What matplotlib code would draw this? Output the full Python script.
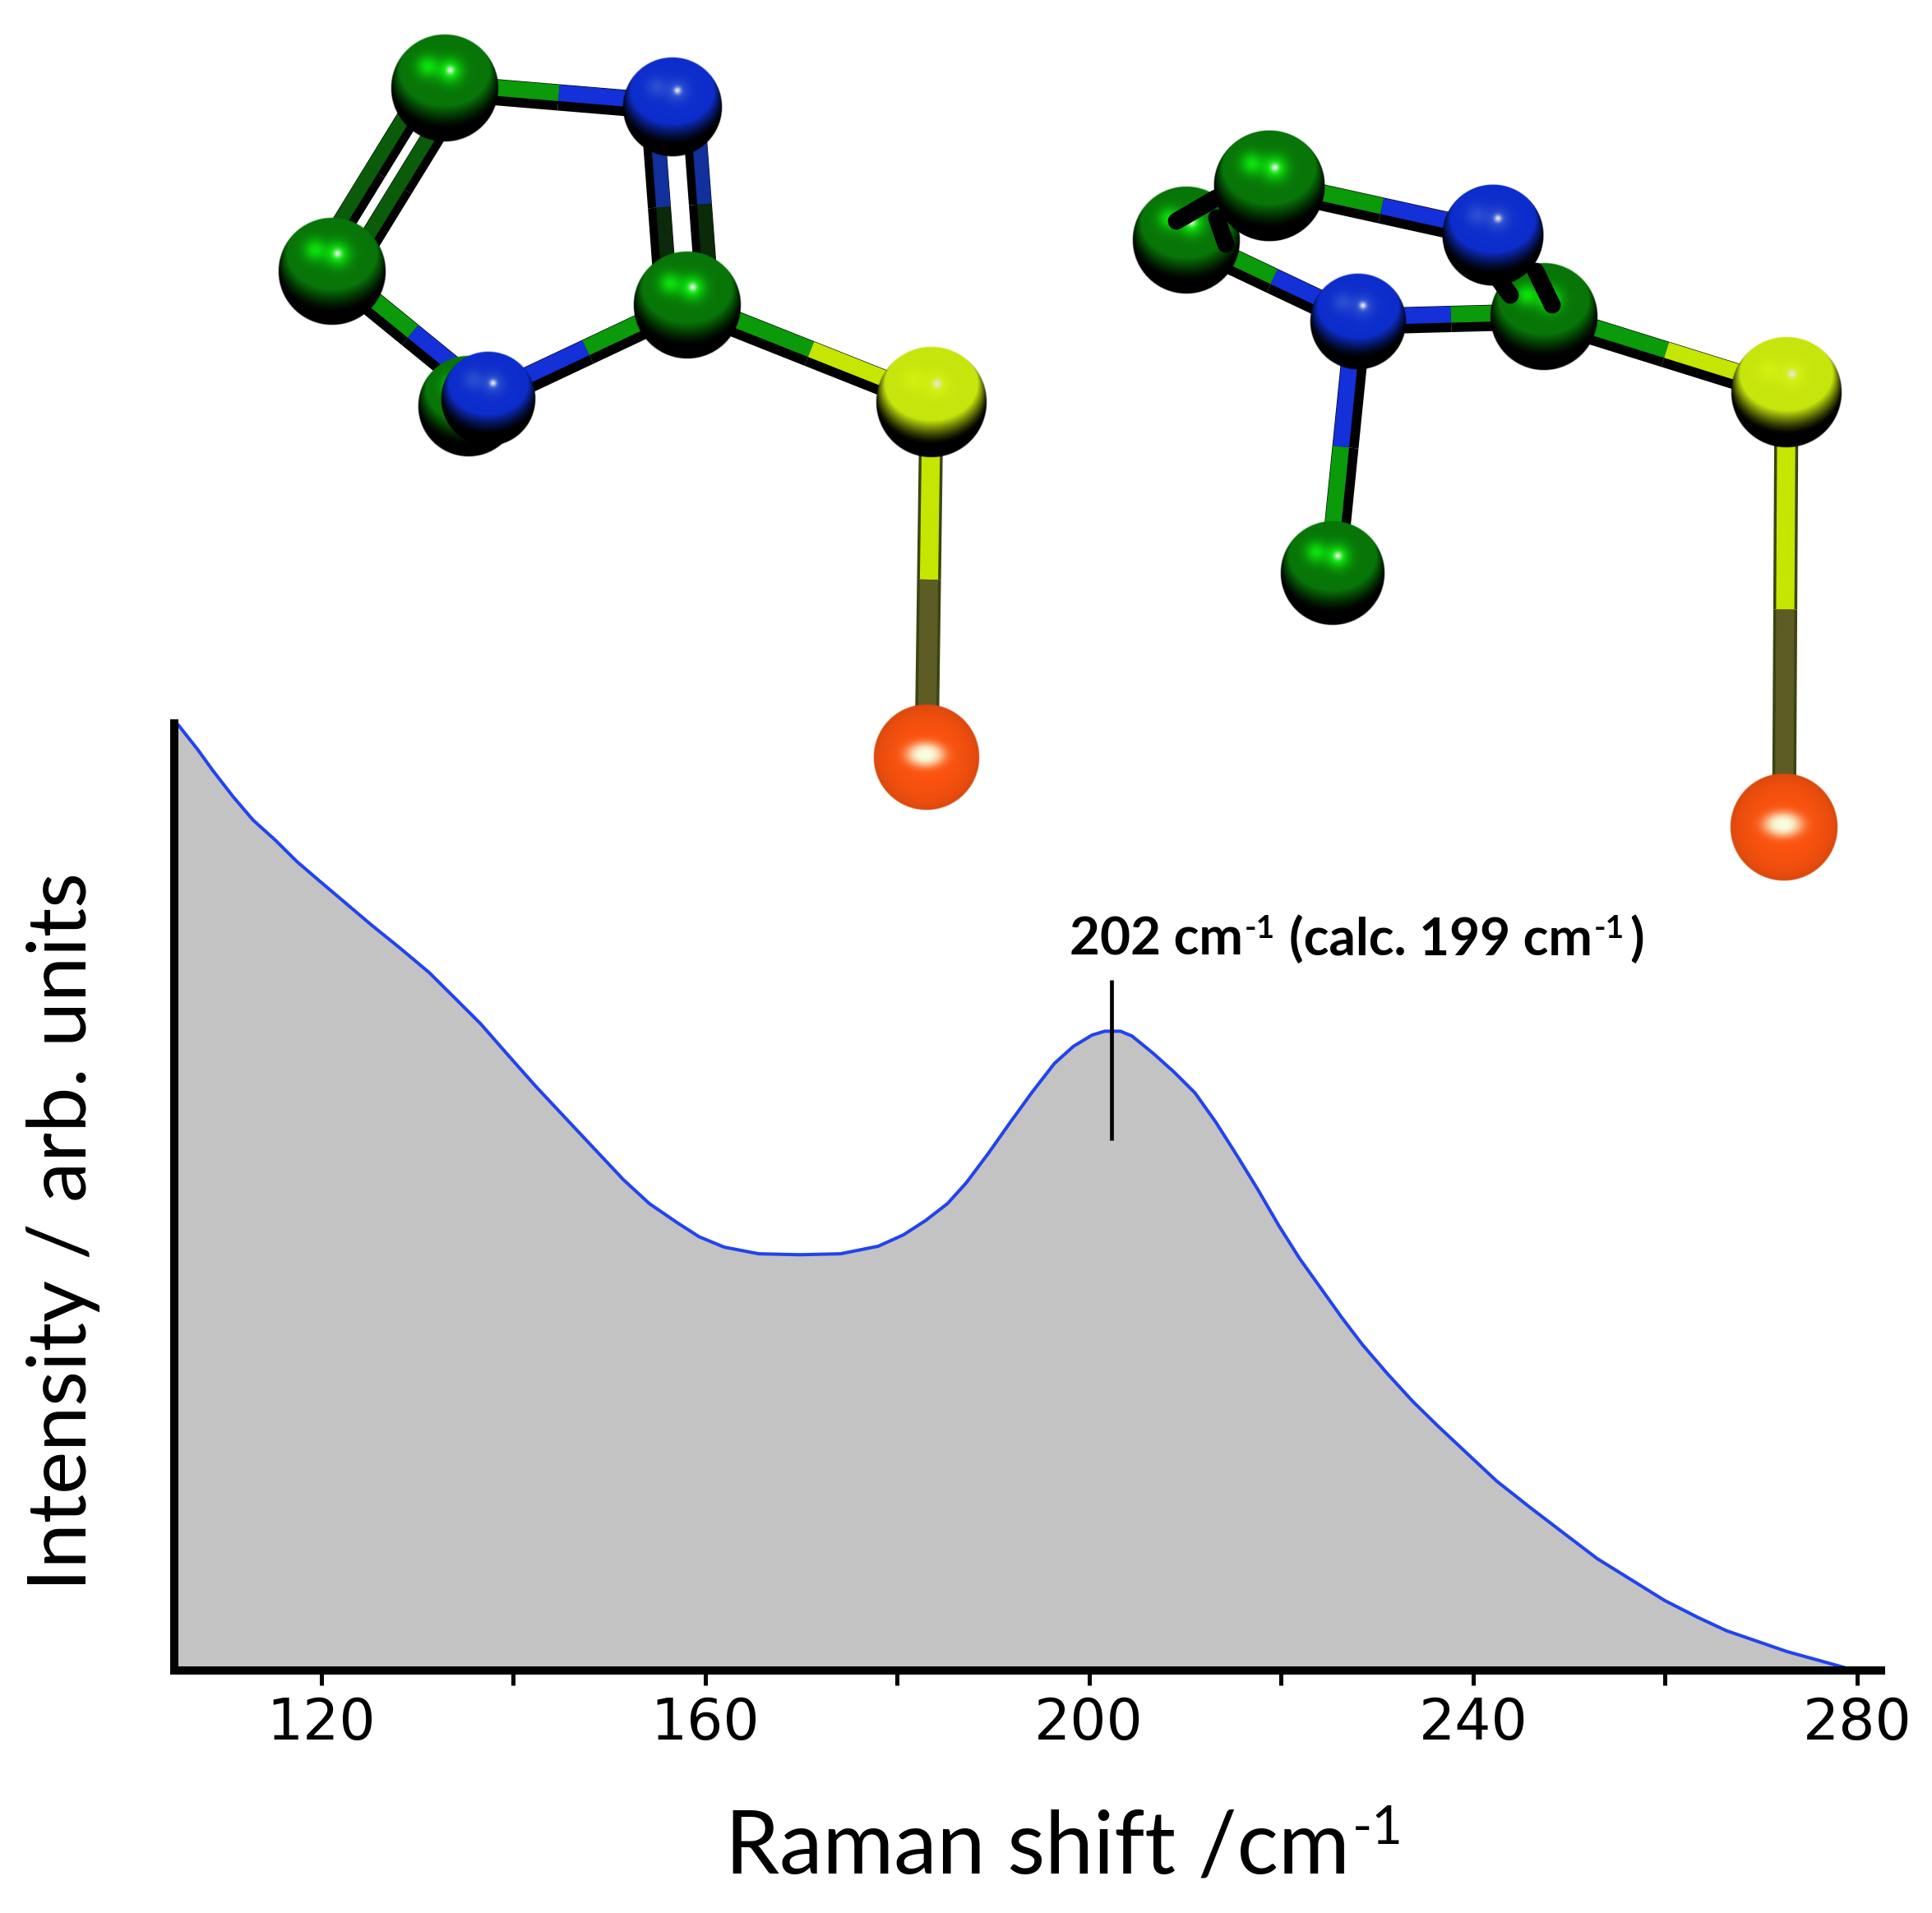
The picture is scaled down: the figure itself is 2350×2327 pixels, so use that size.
import matplotlib
matplotlib.use('Agg')
import matplotlib.pyplot as plt
import numpy as np

# spectrum
shift = [104.7, 105.07, 107.17, 108.7, 110.8, 112.9, 115.2, 117.49, 119.79, 122.47, 125.14, 128.19, 131.25,
         133.93, 136.6, 139.28, 142.34, 145.39, 148.45, 151.51, 154.19, 157.07, 159.37, 161.99, 165.59, 169.85,
         174.11, 178.04, 180.66, 182.95, 185.25, 187.21, 189.5, 191.8, 194.09, 196.39, 198.36, 200.32, 201.63,
         203.27, 204.46, 206.64, 208.84, 211.02, 213.2, 215.39, 217.57, 219.75, 221.93, 224.12, 226.3, 228.48,
         231.11, 233.73, 236.35, 239.4, 242.46, 245.96, 249.45, 252.95, 256.45, 259.94, 263.43, 266.4, 272.7,
         279.1]
intensity = [100.2, 99.9, 97.2, 95.05, 92.3, 89.8, 87.7, 85.4, 83.4, 81.1, 78.8, 76.3, 73.7,
             71.0, 68.3, 65.2, 61.7, 58.4, 55.1, 51.8, 49.3, 47.3, 45.8, 44.7, 44.0, 43.9,
             44.0, 44.8, 46.0, 47.5, 49.3, 51.5, 54.6, 57.9, 61.1, 64.1, 65.9, 67.1, 67.5,
             67.5, 67.0, 65.2, 63.2, 61.0, 57.9, 54.4, 50.8, 47.0, 43.5, 40.4, 37.3, 34.4,
             31.3, 28.4, 25.8, 22.9, 20.0, 17.2, 14.5, 11.8, 9.6, 7.4, 5.6, 4.2, 2.0,
             0.2]
major_ticks = [120, 160, 200, 240, 280]
minor_ticks = [140, 180, 220, 260]
peak_x = 202.37
peak_span = [55.95, 72.9]

# molecules, in picture pixels
atoms_left_x = [570, 541, 404, 818, 836, 594, 1133, 1127]
atoms_left_y = [494, 107, 330, 130, 371, 485, 489, 921]
atoms_left_r = [62, 66, 66, 61, 66, 58, 68, 65]
atoms_left_kind = ['C', 'C', 'C', 'N', 'C', 'N', 'S', 'O']
bonds_left = [(1, 3), (2, 5), (5, 4), (4, 6)]
double_left = [((1, 2), 19), ((3, 4), 25)]
double_left_colors = [('#0a5c0a', '#0a5c0a'), ('#12309c', '#0a2a0a')]

atoms_right_x = [1443, 1544, 1878, 1816, 1652, 1621, 2173, 2170]
atoms_right_y = [292, 226, 385, 286, 391, 697, 477, 1006]
atoms_right_r = [66, 68, 66, 62, 59, 64, 68, 66]
atoms_right_kind = ['C', 'C', 'C', 'N', 'N', 'C', 'S', 'O']
bonds_right = [(1, 3), (0, 4), (4, 2), (4, 5), (2, 6)]
stubs_right_x = [[1431, 1479], [1480, 1491], [1837, 1812], [1888, 1868]]
stubs_right_y = [[269, 241], [265, 297], [359, 325], [371, 330]]

sphere_base = {'C': (0.03, 0.46, 0.03), 'N': (0.05, 0.18, 0.80), 'S': (0.78, 0.90, 0.05), 'O': (1.0, 0.33, 0.06)}
sphere_glow = {'C': (0.05, 1.0, 0.05), 'N': (0.35, 0.50, 0.85), 'S': (0.92, 1.0, 0.10), 'O': (0.97, 1.0, 0.88)}
bond_color = {'C': '#0a9a0a', 'N': '#1430d8', 'S': '#c4e600', 'O': '#5c5c24'}


def sphere(ax, x, y, r, kind, z):
    X, Y = np.meshgrid(np.linspace(-1, 1, 220), np.linspace(-1, 1, 220))
    rr = X ** 2 + Y ** 2
    nz = np.sqrt(np.clip(1 - rr, 0, 1))
    base = np.array(sphere_base[kind])
    glow = np.array(sphere_glow[kind])
    if kind == 'O':
        shade = 0.82 + 0.18 * nz
        spot = np.exp(-(((X + 0.02) / 0.36) ** 2 + ((Y + 0.05) / 0.23) ** 2) ** 1.5)
    else:
        d = (Y * -0.6) + nz * 0.8
        shade = np.clip((d - 0.06) / 0.5, 0, 1) ** 1.6
        spot = 0.75 * np.exp(-(((X + 0.32) / 0.2) ** 2 + ((Y + 0.4) / 0.2) ** 2))
        spot = spot + 0.95 * np.exp(-(((X - 0.1) / 0.22) ** 2 + ((Y + 0.32) / 0.22) ** 2))
        if kind == 'N' or kind == 'S':
            spot = spot * 0.5
    img = np.zeros((220, 220, 4))
    for c in range(3):
        img[:, :, c] = np.clip(base[c] * shade * (1 - spot) + glow[c] * spot, 0, 1)
    if kind != 'O':
        hot = np.exp(-(((X - 0.1) / 0.07) ** 2 + ((Y + 0.33) / 0.07) ** 2))
        for c in range(3):
            img[:, :, c] = img[:, :, c] * (1 - hot) + hot * 0.9
    img[:, :, 3] = np.clip((1 - np.sqrt(rr)) * 60, 0, 1)
    ax.imshow(img, extent=(x - r, x + r, y + r, y - r), aspect='auto', zorder=z, interpolation='bilinear')


def bond_half(ax, x0, y0, x1, y1, col, width, z):
    dx, dy = x1 - x0, y1 - y0
    n = np.hypot(dx, dy)
    ox, oy = -dy / n, dx / n
    if oy > 0 or (abs(oy) < 1e-6 and ox > 0):
        ox, oy = -ox, -oy
    pts = width * 0.72
    ax.plot([x0, x1], [y0, y1], color='black', lw=pts, solid_capstyle='butt', zorder=z)
    ax.plot([x0 + ox * width * 0.17, x1 + ox * width * 0.17], [y0 + oy * width * 0.17, y1 + oy * width * 0.17],
            color=col, lw=pts * 0.62, solid_capstyle='butt', zorder=z)


def bond(ax, xs, ys, kinds, a, b, width=32, shift_by=0.0, z=3, colors=None):
    x0, y0, x1, y1 = xs[a], ys[a], xs[b], ys[b]
    n = np.hypot(x1 - x0, y1 - y0)
    ox, oy = -(y1 - y0) / n * shift_by, (x1 - x0) / n * shift_by
    mx, my = (x0 + x1) / 2, (y0 + y1) / 2
    if colors is None:
        colors = (bond_color[kinds[a]], bond_color[kinds[b]])
    bond_half(ax, x0 + ox, y0 + oy, mx + ox, my + oy, colors[0], width, z)
    bond_half(ax, mx + ox, my + oy, x1 + ox, y1 + oy, colors[1], width, z)


def sulfur_bond(ax, xs, ys, kinds, a, b, z=3):
    # the long S-O stick is seen straight on, so its colour runs down the middle
    mx, my = (xs[a] + xs[b]) / 2, (ys[a] + ys[b]) / 2
    for x0, y0, x1, y1, k in [(xs[a], ys[a], mx, my, kinds[a]), (mx, my, xs[b], ys[b], kinds[b])]:
        ax.plot([x0, x1], [y0, y1], color='#3c4410', lw=21, solid_capstyle='butt', zorder=z)
        ax.plot([x0, x1], [y0, y1], color=bond_color[k], lw=16, solid_capstyle='butt', zorder=z)


def pieces(ax, x, y, parts, **kw):
    # text runs side by side, the superscripts lifted above the baseline
    rend = fig.canvas.get_renderer()
    for s, lift, size, gap in parts:
        t = ax.text(x, y - lift, s, fontsize=size, ha='left', va='baseline', **kw)
        x = t.get_window_extent(rend).x1 + gap


fig = plt.figure(figsize=(23.5, 23.27), dpi=100)
W, H = 2350, 2327
ax = fig.add_axes([212 / W, 1 - 2032 / H, (2288 - 212) / W, (2032 - 880) / H])
ax.fill_between(shift, intensity, 0, color='#c3c3c3', lw=0)
ax.plot(shift, intensity, color='#2244ee', lw=2.9)
ax.plot([peak_x, peak_x], peak_span, color='black', lw=3.4, solid_capstyle='butt')
ax.set_xlim(104.7, 282.5)
ax.set_ylim(0, 100)
ax.spines['top'].set_visible(False)
ax.spines['right'].set_visible(False)
ax.spines['left'].set_linewidth(7.2)
ax.spines['bottom'].set_linewidth(7.2)
ax.set_yticks([])
ax.set_xticks(major_ticks)
ax.set_xticks(minor_ticks, minor=True)
ax.tick_params(axis='x', which='both', length=13, width=3.6, pad=9)
ax.set_xticklabels([str(v) for v in major_ticks], fontsize=50, family='DejaVu Sans')

over = fig.add_axes([0, 0, 1, 1], facecolor='none')
over.axis('off')

# left molecule
xs, ys, kinds = atoms_left_x, atoms_left_y, atoms_left_kind
for a, b in bonds_left:
    bond(over, xs, ys, kinds, a, b)
sulfur_bond(over, xs, ys, kinds, 6, 7)
for ((a, b), off), cols in zip(double_left, double_left_colors):
    bond(over, xs, ys, kinds, a, b, width=28, shift_by=off, colors=cols)
    bond(over, xs, ys, kinds, a, b, width=28, shift_by=-off, colors=cols)
for i in range(len(xs)):
    sphere(over, xs[i], ys[i], atoms_left_r[i], kinds[i], 4 + i * 0.1)

# right molecule
xs, ys, kinds = atoms_right_x, atoms_right_y, atoms_right_kind
for a, b in bonds_right:
    bond(over, xs, ys, kinds, a, b)
sulfur_bond(over, xs, ys, kinds, 6, 7)
for i in range(len(xs)):
    sphere(over, xs[i], ys[i], atoms_right_r[i], kinds[i], 4 + i * 0.1)
for sx, sy in zip(stubs_right_x, stubs_right_y):
    over.plot(sx, sy, color='black', lw=15, solid_capstyle='round', zorder=4.25)
sphere(over, xs[1], ys[1], atoms_right_r[1], 'C', 4.27)
sphere(over, xs[3], ys[3], atoms_right_r[3], 'N', 4.29)

over.set_xlim(0, W)
over.set_ylim(H, 0)

pieces(over, 1301, 1162, [('202 cm', 0, 46, 2), ('-1', 21, 28, 17), ('(calc. 199 cm', 0, 46, 2),
                          ('-1', 21, 28, 6), (')', 0, 46, 0)], family='Lato', weight='bold', color='black')
pieces(over, 882, 2278, [('Raman shift /cm', 0, 76, 3), ('-1', 35, 47, 0)], family='Lato', color='black')
over.text(77, 1498, 'Intensity / arb. units', fontsize=71, family='Lato', rotation=90, ha='center', va='center',
          color='black')

fig.savefig('out.png', dpi=100)
